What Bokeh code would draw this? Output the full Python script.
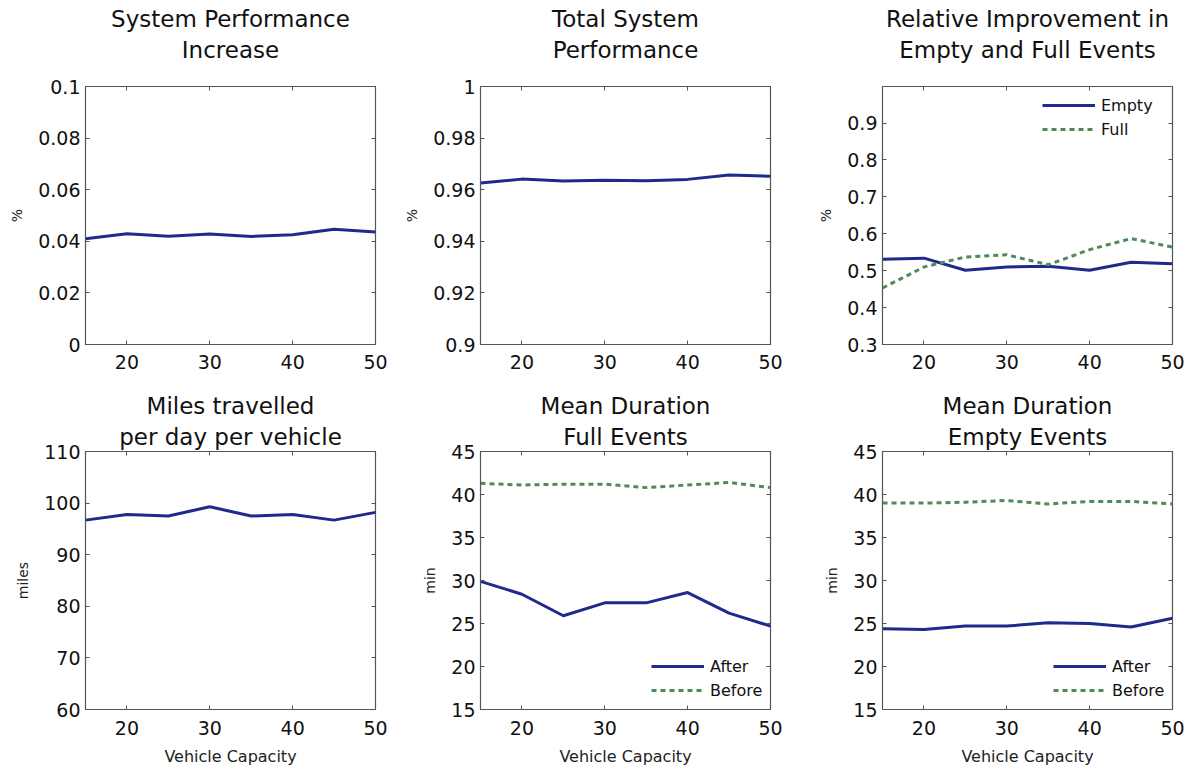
from bokeh.plotting import figure
from bokeh.layouts import column, row
from bokeh.models import Range1d, LinearAxis, FixedTicker, Legend, LegendItem, Title
from bokeh.embed import file_html
from bokeh.resources import INLINE

# ---------------- data ----------------
capacity = [15, 20, 25, 30, 35, 40, 45, 50]
x_ticks = [20, 30, 40, 50]

perf_increase = [0.0410, 0.0429, 0.0420, 0.0428, 0.0419, 0.0425, 0.0447, 0.0436]
total_perf = [0.9626, 0.9641, 0.9634, 0.9637, 0.9635, 0.9640, 0.9657, 0.9652]
rel_empty = [0.531, 0.534, 0.501, 0.510, 0.512, 0.501, 0.523, 0.519]
rel_full = [0.453, 0.510, 0.537, 0.543, 0.516, 0.557, 0.587, 0.564]
miles = [96.7, 97.8, 97.5, 99.3, 97.5, 97.8, 96.7, 98.2]
full_after = [29.9, 28.4, 25.9, 27.4, 27.4, 28.6, 26.2, 24.7]
full_before = [41.3, 41.1, 41.2, 41.2, 40.8, 41.1, 41.4, 40.8]
empty_after = [24.4, 24.3, 24.7, 24.7, 25.1, 25.0, 24.6, 25.6]
empty_before = [39.0, 39.0, 39.1, 39.3, 38.9, 39.2, 39.2, 38.9]

y1_ticks = [0, 0.02, 0.04, 0.06, 0.08, 0.1]
y1_labels = ["0", "0.02", "0.04", "0.06", "0.08", "0.1"]
y2_ticks = [0.9, 0.92, 0.94, 0.96, 0.98, 1]
y2_labels = ["0.9", "0.92", "0.94", "0.96", "0.98", "1"]
y3_ticks = [0.3, 0.4, 0.5, 0.6, 0.7, 0.8, 0.9]
y3_labels = ["0.3", "0.4", "0.5", "0.6", "0.7", "0.8", "0.9"]
y4_ticks = [60, 70, 80, 90, 100, 110]
y4_labels = ["60", "70", "80", "90", "100", "110"]
y5_ticks = [15, 20, 25, 30, 35, 40, 45]
y5_labels = ["15", "20", "25", "30", "35", "40", "45"]

BLUE = "#1f2a8c"
GREEN = "#4e8a5c"
AXC = "#555555"
FONT = "DejaVu Sans"
FRAME_W, FRAME_H = 290, 258


def panel(titles, ylabel, yr, yticks, ylabels, bl, br, bt, bb,
          gap, xstand, xlabel=None):
    p = figure(width=bl + FRAME_W + br, height=bt + FRAME_H + bb,
               output_backend="svg", toolbar_location=None,
               x_range=Range1d(15, 50), y_range=Range1d(*yr),
               min_border_left=bl, min_border_right=br,
               min_border_top=bt, min_border_bottom=bb, title_location=None)
    p.xgrid.visible = False
    p.ygrid.visible = False
    p.outline_line_color = AXC
    p.outline_line_width = 1.2
    p.background_fill_color = "white"
    p.border_fill_color = "white"

    ov_y = {t: l for t, l in zip(yticks, ylabels)}
    for ax, ticks, ov in ((p.xaxis[0], x_ticks, None), (p.yaxis[0], yticks, ov_y)):
        ax.ticker = FixedTicker(ticks=ticks)
        if ov:
            ax.major_label_overrides = ov
        ax.major_tick_in = 4
        ax.major_tick_out = 0
        ax.minor_tick_line_color = None
        ax.axis_line_color = AXC
        ax.major_tick_line_color = AXC
        ax.major_label_text_font = FONT
        ax.major_label_text_font_size = "19px"
        ax.major_label_text_color = "#111111"
        ax.axis_label_text_font = FONT
        ax.axis_label_text_font_style = "normal"
        ax.axis_label_text_color = "#222222"
    p.xaxis.major_label_standoff = xstand
    p.yaxis.major_label_standoff = 5
    p.yaxis.axis_label = ylabel
    p.yaxis.axis_label_text_font_size = "14px"
    p.yaxis.axis_label_standoff = 10
    if xlabel:
        p.xaxis.axis_label = xlabel
        p.xaxis.axis_label_text_font_size = "16px"
        p.xaxis.axis_label_standoff = 9

    # mirrored inward ticks on top and right (labels not drawn)
    for loc, ticks in (("right", yticks), ("above", x_ticks)):
        a = LinearAxis(ticker=FixedTicker(ticks=ticks), major_tick_in=4,
                       major_tick_out=0, minor_tick_line_color=None,
                       axis_line_color=None, major_tick_line_color=AXC,
                       major_label_text_font_size="1px",
                       major_label_text_alpha=0,
                       major_label_standoff=0)
        p.add_layout(a, loc)

    # white (invisible on white) spacer between the frame and the title lines
    if gap > 0:
        sp = LinearAxis(ticker=FixedTicker(ticks=[15]), major_tick_in=0,
                        major_tick_out=gap, minor_tick_line_color=None,
                        axis_line_color=None, major_tick_line_color="white",
                        major_label_text_font_size="1px",
                        major_label_text_alpha=0, major_label_standoff=0)
        p.add_layout(sp, "above")

    # two-line title: the line nearest the frame is added first
    for txt, so in zip(reversed(titles), (4, 2)):
        p.add_layout(Title(text=txt, align="center", text_font=FONT,
                           text_font_size="23px", text_font_style="normal",
                           text_color="#111111", standoff=so), "above")
    return p


def add_legend(p, items, vx, vy):
    leg = Legend(items=[LegendItem(label=l, renderers=[r]) for l, r in items],
                 location=(vx, vy), glyph_width=53, glyph_height=20,
                 label_height=20, label_standoff=6, spacing=4, padding=0,
                 margin=0, border_line_color=None, background_fill_alpha=0,
                 label_text_font=FONT, label_text_font_size="16px",
                 label_text_color="#111111")
    p.add_layout(leg)


BL = [85, 80, 82]
BR = [25, 30, 16]
BT1, BB1, GAP1 = 86, 42, 22
BT2, BB2, GAP2 = 65, 61, 0

# ---- row 1 ----
p1 = panel(["System Performance", "Increase"], "%", (0, 0.1), y1_ticks, y1_labels,
           BL[0], BR[0], BT1, BB1, GAP1, 10)
p1.line(capacity, perf_increase, line_width=3, color=BLUE)

p2 = panel(["Total System", "Performance"], "%", (0.9, 1.0), y2_ticks, y2_labels,
           BL[1], BR[1], BT1, BB1, GAP1, 10)
p2.line(capacity, total_perf, line_width=3, color=BLUE)

p3 = panel(["Relative Improvement in", "Empty and Full Events"], "%", (0.3, 0.999),
           y3_ticks, y3_labels, BL[2], BR[2], BT1, BB1, GAP1, 10)
r3a = p3.line(capacity, rel_empty, line_width=3, color=BLUE)
r3b = p3.line(capacity, rel_full, line_width=3, color=GREEN, line_dash="5 4")
add_legend(p3, [("Empty", r3a), ("Full", r3b)], 160, 205)

# ---- row 2 ----
p4 = panel(["Miles travelled", "per day per vehicle"], "miles", (60, 110), y4_ticks,
           y4_labels, BL[0], BR[0], BT2, BB2, GAP2, 11, "Vehicle Capacity")
p4.line(capacity, miles, line_width=3, color=BLUE)

p5 = panel(["Mean Duration", "Full Events"], "min", (15, 45), y5_ticks, y5_labels,
           BL[1], BR[1], BT2, BB2, GAP2, 11, "Vehicle Capacity")
r5a = p5.line(capacity, full_after, line_width=3, color=BLUE)
r5b = p5.line(capacity, full_before, line_width=3, color=GREEN, line_dash="5 4")
add_legend(p5, [("After", r5a), ("Before", r5b)], 171, 9)

p6 = panel(["Mean Duration", "Empty Events"], "min", (15, 45), y5_ticks, y5_labels,
           BL[2], BR[2], BT2, BB2, GAP2, 11, "Vehicle Capacity")
r6a = p6.line(capacity, empty_after, line_width=3, color=BLUE)
r6b = p6.line(capacity, empty_before, line_width=3, color=GREEN, line_dash="5 4")
add_legend(p6, [("After", r6a), ("Before", r6b)], 171, 9)

layout = column(row(p1, p2, p3, spacing=0), row(p4, p5, p6, spacing=0), spacing=0)

open("out.html", "w").write(file_html(layout, INLINE))
